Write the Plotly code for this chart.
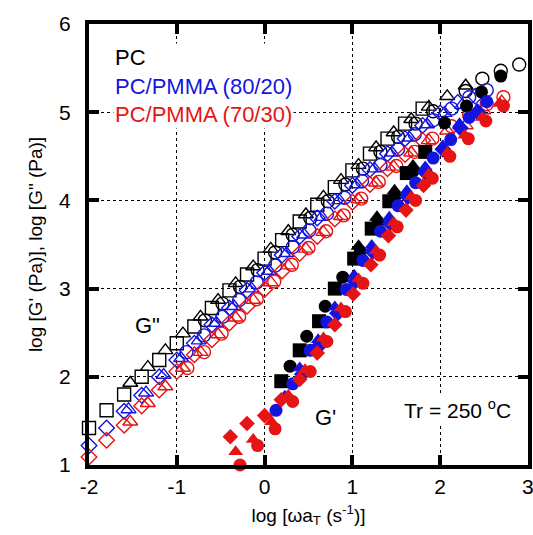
import plotly.graph_objects as go

BLACK = 'black'
BLUE = 'rgb(20,20,225)'
RED = 'rgb(230,20,20)'

# ---- G'' (open symbols) ----
# PC
pc_gpp_sq_x = [-2.0, -1.8, -1.6, -1.4, -1.2, -1.0, -0.8, -0.6, -0.4, -0.2, 0.0, 0.2, 0.4, 0.6, 0.8, 1.0, 1.2, 1.4, 1.6, 1.8]
pc_gpp_sq_y = [1.42, 1.62, 1.80, 2.00, 2.19, 2.38, 2.57, 2.78, 2.98, 3.16, 3.34, 3.55, 3.76, 3.95, 4.15, 4.34, 4.53, 4.70, 4.87, 5.04]
pc_gpp_tri_x = [-1.53, -1.33, -1.13, -0.93, -0.73, -0.53, -0.33, -0.13, 0.07, 0.27, 0.47, 0.67, 0.87, 1.07, 1.27, 1.47, 1.67, 1.87, 2.08, 2.29]
pc_gpp_tri_y = [1.93, 2.11, 2.30, 2.49, 2.68, 2.87, 3.06, 3.25, 3.45, 3.65, 3.84, 4.04, 4.23, 4.40, 4.60, 4.77, 4.92, 5.06, 5.18, 5.30]
pc_gpp_cir_x = [-0.68, -0.48, -0.28, -0.08, 0.12, 0.32, 0.52, 0.72, 0.92, 1.12, 1.32, 1.52, 1.72, 1.92, 2.29, 2.48, 2.69, 2.90]
pc_gpp_cir_y = [2.64, 2.83, 3.02, 3.21, 3.41, 3.61, 3.80, 3.99, 4.18, 4.36, 4.55, 4.72, 4.87, 5.01, 5.24, 5.38, 5.47, 5.54]
# PC/PMMA (80/20)
b_gpp_dia_x = [-2.0, -1.8, -1.6, -1.4, -1.2, -1.0, -0.8, -0.6, -0.4, -0.2, 0.0, 0.2, 0.4, 0.6, 0.8, 1.0, 1.2, 1.4, 1.6, 1.8, 2.0, 2.2, 2.4]
b_gpp_dia_y = [1.22, 1.42, 1.61, 1.79, 2.00, 2.19, 2.38, 2.59, 2.78, 2.98, 3.18, 3.38, 3.59, 3.80, 3.99, 4.17, 4.35, 4.53, 4.70, 4.85, 4.99, 5.11, 5.18]
b_gpp_tri_x = [-1.55, -1.35, -1.15, -0.95, -0.75, -0.55, -0.35, -0.15, 0.05, 0.25, 0.45, 0.65, 0.85, 1.05, 1.25, 1.45, 1.65, 1.85, 2.05, 2.25]
b_gpp_tri_y = [1.63, 1.82, 2.02, 2.21, 2.41, 2.61, 2.80, 3.00, 3.20, 3.40, 3.61, 3.81, 4.00, 4.18, 4.36, 4.54, 4.71, 4.86, 4.99, 5.08]
b_gpp_cir_x = [-0.89, -0.69, -0.48, -0.29, -0.09, 0.12, 0.32, 0.51, 0.71, 0.91, 1.11, 1.32, 1.52, 1.71, 1.92, 2.13, 2.33, 2.53]
b_gpp_cir_y = [2.28, 2.47, 2.68, 2.87, 3.07, 3.26, 3.47, 3.66, 3.85, 4.03, 4.22, 4.40, 4.58, 4.75, 4.91, 5.04, 5.17, 5.25]
# PC/PMMA (70/30)
r_gpp_dia_x = [-2.0, -1.8, -1.6, -1.4, -1.2, -1.0, -0.8, -0.6, -0.4, -0.2, 0.0, 0.2, 0.4, 0.6, 0.8, 1.0, 1.2, 1.4, 1.6, 1.8]
r_gpp_dia_y = [1.09, 1.28, 1.45, 1.67, 1.85, 2.06, 2.25, 2.42, 2.61, 2.80, 2.99, 3.20, 3.40, 3.59, 3.79, 3.98, 4.18, 4.36, 4.52, 4.68]
r_gpp_tri_x = [-1.53, -1.33, -1.13, -0.93, -0.73, -0.53, -0.33, -0.13, 0.07, 0.27, 0.47, 0.67, 0.87, 1.07, 1.27, 1.47, 1.67, 1.87, 2.08, 2.29, 2.49, 2.70]
r_gpp_tri_y = [1.49, 1.70, 1.89, 2.10, 2.28, 2.48, 2.67, 2.87, 3.07, 3.26, 3.45, 3.64, 3.82, 4.01, 4.20, 4.38, 4.54, 4.68, 4.79, 4.85, 5.02, 5.12]
r_gpp_cir_x = [-0.88, -0.69, -0.49, -0.29, -0.09, 0.11, 0.31, 0.50, 0.70, 0.90, 1.10, 1.30, 1.50, 1.71, 1.91, 2.13, 2.33, 2.53, 2.72]
r_gpp_cir_y = [2.10, 2.28, 2.49, 2.68, 2.88, 3.08, 3.27, 3.46, 3.65, 3.83, 4.02, 4.21, 4.39, 4.55, 4.70, 4.84, 4.97, 5.09, 5.17]

# ---- G' (filled symbols) ----
pc_gp_sq_x = [0.19, 0.40, 0.62, 0.80, 1.02, 1.22, 1.42, 1.62, 1.83]
pc_gp_sq_y = [1.95, 2.30, 2.63, 3.00, 3.34, 3.68, 3.99, 4.31, 4.55]
pc_gp_tri_x = [1.07, 1.28, 1.48, 1.69]
pc_gp_tri_y = [3.48, 3.81, 4.11, 4.39]
pc_gp_cir_x = [0.29, 0.48, 0.69, 0.89, 1.09, 1.29, 1.49, 1.69, 2.05, 2.30, 2.47, 2.69]
pc_gp_cir_y = [2.12, 2.46, 2.80, 3.13, 3.42, 3.75, 4.05, 4.33, 4.88, 5.07, 5.23, 5.41]

b_gp_cir_x = [0.13, 0.32, 0.52, 0.71, 0.93, 1.12, 1.32, 1.52, 1.72, 1.92, 2.12, 2.33, 2.53]
b_gp_cir_y = [1.62, 1.92, 2.30, 2.62, 2.99, 3.32, 3.65, 3.94, 4.20, 4.48, 4.69, 4.94, 5.12]
b_gp_tri_x = [0.23, 0.40, 0.61, 0.80, 1.02, 1.22, 1.42, 1.62, 1.83, 2.03, 2.22, 2.42]
b_gp_tri_y = [1.78, 2.10, 2.42, 2.79, 3.15, 3.49, 3.81, 4.11, 4.38, 4.62, 4.87, 5.03]
b_gp_dia_x = [0.43, 0.63, 0.83, 1.03, 1.23, 1.43, 1.63, 1.83, 2.03, 2.23, 2.43]
b_gp_dia_y = [2.03, 2.36, 2.72, 3.08, 3.42, 3.74, 4.04, 4.32, 4.58, 4.82, 5.00]

r_gp_dia_x = [-0.39, -0.20, 0.00, 0.19, 0.40, 0.60, 0.80, 1.01, 1.21, 1.41, 1.61, 1.81]
r_gp_dia_y = [1.32, 1.47, 1.56, 1.74, 1.97, 2.27, 2.59, 2.94, 3.27, 3.60, 3.89, 4.17]
r_gp_tri_x = [-0.33, -0.13, 0.08, 0.27, 0.46, 0.67, 0.87, 1.07, 1.27, 1.47, 1.67, 1.87, 2.08, 2.28, 2.48, 2.68]
r_gp_tri_y = [1.15, 1.29, 1.49, 1.79, 2.08, 2.44, 2.78, 3.11, 3.43, 3.75, 4.04, 4.30, 4.54, 4.74, 4.94, 5.10]
r_gp_cir_x = [-0.28, -0.08, 0.12, 0.32, 0.52, 0.71, 0.92, 1.12, 1.31, 1.51, 1.72, 1.91, 2.11, 2.32, 2.52, 2.72]
r_gp_cir_y = [1.00, 1.22, 1.41, 1.72, 2.06, 2.40, 2.74, 3.06, 3.38, 3.70, 4.00, 4.25, 4.50, 4.70, 4.90, 5.07]

x_ticks = [-2, -1, 0, 1, 2, 3]
y_ticks = [1, 2, 3, 4, 5, 6]

fig = go.Figure()


def add(x, y, symbol, color, filled, size=12):
    if filled:
        marker = dict(symbol=symbol, size=size, color=color, line=dict(width=0))
    else:
        marker = dict(symbol=symbol + '-open', size=size, color=color, line=dict(width=1.4, color=color))
    fig.add_trace(go.Scatter(x=x, y=y, mode='markers', marker=marker, cliponaxis=False, showlegend=False,
                             hoverinfo='skip'))


# open, G''
add(pc_gpp_sq_x, pc_gpp_sq_y, 'square', BLACK, False, 13)
add(pc_gpp_cir_x, pc_gpp_cir_y, 'circle', BLACK, False, 13)
add(pc_gpp_tri_x, pc_gpp_tri_y, 'triangle-up', BLACK, False, 13)
add(b_gpp_cir_x, b_gpp_cir_y, 'circle', BLUE, False, 13)
add(b_gpp_tri_x, b_gpp_tri_y, 'triangle-up', BLUE, False, 13)
add(b_gpp_dia_x, b_gpp_dia_y, 'diamond', BLUE, False, 12)
add(r_gpp_cir_x, r_gpp_cir_y, 'circle', RED, False, 13)
add(r_gpp_tri_x, r_gpp_tri_y, 'triangle-up', RED, False, 13)
add(r_gpp_dia_x, r_gpp_dia_y, 'diamond', RED, False, 12)

# filled, G'
add(pc_gp_cir_x, pc_gp_cir_y, 'circle', BLACK, True, 13)
add(pc_gp_tri_x, pc_gp_tri_y, 'triangle-up', BLACK, True, 14)
add(pc_gp_sq_x, pc_gp_sq_y, 'square', BLACK, True, 14)
add(b_gp_dia_x, b_gp_dia_y, 'diamond', BLUE, True, 13)
add(b_gp_tri_x, b_gp_tri_y, 'triangle-up', BLUE, True, 13)
add(b_gp_cir_x, b_gp_cir_y, 'circle', BLUE, True, 13)
add(r_gp_cir_x, r_gp_cir_y, 'circle', RED, True, 13)
add(r_gp_tri_x, r_gp_tri_y, 'triangle-up', RED, True, 13)
add(r_gp_dia_x, r_gp_dia_y, 'diamond', RED, True, 12)

axis_common = dict(
    showline=True, linewidth=4, linecolor='black', mirror='ticks',
    ticks='inside', ticklen=10, tickwidth=4, tickcolor='black',
    showgrid=True, gridcolor='black', gridwidth=1, griddash='3px,3px',
    zeroline=False, tickfont=dict(size=21, color='black'), automargin=False,
)

fig.update_xaxes(range=[-2, 3], tickvals=x_ticks, ticktext=[str(v) for v in x_ticks],
                 title=dict(text='log [ωa<sub>T</sub> (s<sup>-1</sup>)]', font=dict(size=19, color='black'), standoff=12),
                 **axis_common)
fig.update_yaxes(range=[1, 6], tickvals=y_ticks, ticktext=[str(v) for v in y_ticks],
                 title=dict(text='log [G\' (Pa)], log [G" (Pa)]', font=dict(size=19, color='black'), standoff=12),
                 ticklabelstandoff=10, **axis_common)

# last x tick label sits at the right edge of the page (clipped as in the original)
fig.add_annotation(x=3, xref='x', y=0, yref='paper', yshift=-8, yanchor='top', text='3', showarrow=False,
                   font=dict(size=21, color='black'))

# legend-like text block
fig.add_annotation(xref='paper', yref='paper', x=0.055, y=0.859, xanchor='left', yanchor='middle',
                   text='PC<br><span style="color:' + BLUE + '">PC/PMMA (80/20)</span><br>'
                        '<span style="color:' + RED + '">PC/PMMA (70/30)</span>',
                   align='left', showarrow=False, bgcolor='white', font=dict(size=22, color='black'))
fig.add_annotation(x=-1.33, y=2.58, text='G"', showarrow=False, font=dict(size=22, color='black'))
fig.add_annotation(x=0.69, y=1.54, text="G'", showarrow=False, font=dict(size=22, color='black'))
fig.add_annotation(x=2.2, y=1.64, text='Tr = 250 <sup>o</sup>C', showarrow=False, bgcolor='white',
                   font=dict(size=21, color='black'))

fig.update_layout(
    width=533, height=535,
    margin=dict(l=89, r=5, t=24, b=70),
    plot_bgcolor='white', paper_bgcolor='white',
    font=dict(family='Liberation Sans, Arial, sans-serif', color='black'),
    showlegend=False,
)

fig.write_html("out.html", config={'displayModeBar': False},
               post_script="document.body.style.margin='0';")
